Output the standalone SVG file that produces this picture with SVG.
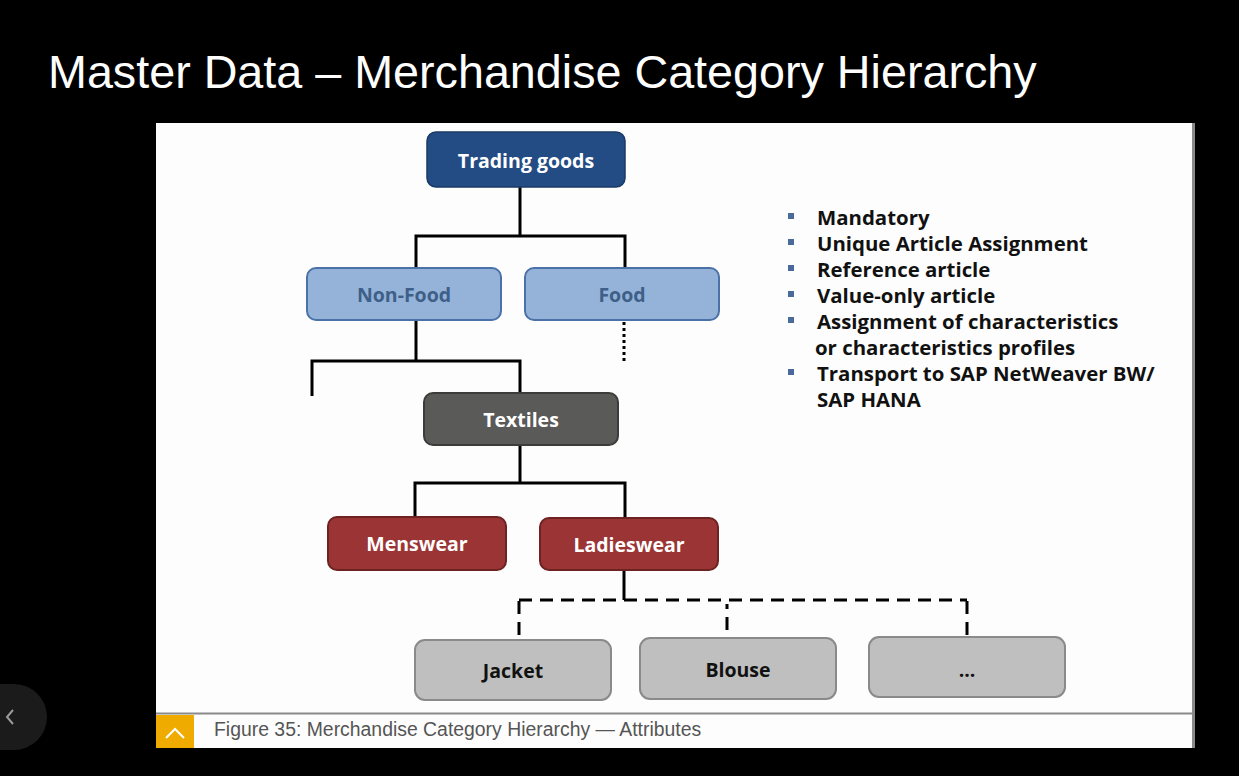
<svg xmlns="http://www.w3.org/2000/svg" width="1239" height="776" viewBox="0 0 1239 776">
<style>
.lbl{font-family:"Open Sans","Liberation Sans",Arial,sans-serif;font-weight:bold;font-size:19.5px;text-anchor:middle;dominant-baseline:central}
.conn{fill:none;stroke:#000;stroke-width:3}
.dash{fill:none;stroke:#000;stroke-width:3;stroke-dasharray:13 8}
.bul{font-family:"Open Sans","Liberation Sans",Arial,sans-serif;font-weight:bold;font-size:20.4px;fill:#111}
.sq{fill:#4a6a9c}
</style>
<rect x="0" y="0" width="1239" height="776" fill="#000"/>
<text x="48" y="88" font-family="Liberation Sans,Arial,sans-serif" font-size="46.7" fill="#fff">Master Data – Merchandise Category Hierarchy</text>
<g id="back-button">
<path d="M0,684 H14 A33,33 0 0 1 14,750 H0 Z" fill="#1b1b1b"/>
<path d="M13,710 L7,717 L13,724" fill="none" stroke="#9a9a9a" stroke-width="2"/>
</g>
<g id="panel">
<rect x="156" y="123" width="1038" height="625" fill="#fdfdfd"/>
<line x1="1193.5" y1="123" x2="1193.5" y2="748" stroke="#8a8a8a" stroke-width="3"/>
<line x1="156" y1="713.5" x2="1193" y2="713.5" stroke="#8a8a8a" stroke-width="2"/>
<rect x="156" y="715" width="38" height="33" fill="#f0ab00"/>
<path d="M166,738 L175,729 L184,738" fill="none" stroke="#fff" stroke-width="2"/>
<text x="214" y="736" font-family="Liberation Sans,Arial,sans-serif" font-size="19.4" fill="#555">Figure 35: Merchandise Category Hierarchy — Attributes</text>
</g>
<g id="connectors">
<path class="conn" d="M520,187 V236 M416,236 H625 M416,234.5 V268 M625,234.5 V268"/>
<path class="conn" d="M416,320 V361 M312,361 H521.5 M312,359.5 V396 M520,359.5 V393"/>
<path d="M624,322 V362" fill="none" stroke="#000" stroke-width="3" stroke-dasharray="3 3"/>
<path class="conn" d="M520,445 V483 M415,483 H626.5 M415,481.5 V517 M625,481.5 V518"/>
<path class="conn" d="M624,570 V600"/>
<path class="dash" d="M519,600 H967"/>
<path class="dash" d="M519,635 V600"/>
<path class="dash" d="M727,630 V604"/>
<path class="dash" d="M967,635 V600"/>
</g>
<g id="trading-goods">
<rect x="427" y="132" width="198" height="55" rx="9" fill="#234c84" stroke="#1a3a66" stroke-width="1.5"/>
<text class="lbl" x="526" y="160" fill="#fff">Trading goods</text>
</g>
<g id="non-food">
<rect x="307" y="268" width="194" height="52" rx="9" fill="#95b3d9" stroke="#4a72a8" stroke-width="2"/>
<text class="lbl" x="404" y="294" fill="#3e5f88">Non-Food</text>
</g>
<g id="food">
<rect x="525" y="268" width="194" height="52" rx="9" fill="#95b3d9" stroke="#4a72a8" stroke-width="2"/>
<text class="lbl" x="622" y="294" fill="#3e5f88">Food</text>
</g>
<g id="textiles">
<rect x="424" y="393" width="194" height="52" rx="9" fill="#5a5a58" stroke="#3c3c3a" stroke-width="2"/>
<text class="lbl" x="521" y="419" fill="#fff">Textiles</text>
</g>
<g id="menswear">
<rect x="328" y="517" width="178" height="53" rx="9" fill="#9b3535" stroke="#6e2222" stroke-width="2"/>
<text class="lbl" x="417" y="543" fill="#fff">Menswear</text>
</g>
<g id="ladieswear">
<rect x="540" y="518" width="178" height="52" rx="9" fill="#9b3535" stroke="#6e2222" stroke-width="2"/>
<text class="lbl" x="629" y="544" fill="#fff">Ladieswear</text>
</g>
<g id="jacket">
<rect x="415" y="640" width="196" height="60" rx="10" fill="#bfbfbf" stroke="#8a8a8a" stroke-width="2"/>
<text class="lbl" x="513" y="670" fill="#111">Jacket</text>
</g>
<g id="blouse">
<rect x="640" y="638" width="196" height="61" rx="10" fill="#bfbfbf" stroke="#8a8a8a" stroke-width="2"/>
<text class="lbl" x="738" y="669" fill="#111">Blouse</text>
</g>
<g id="more">
<rect x="869" y="637" width="196" height="60" rx="10" fill="#bfbfbf" stroke="#8a8a8a" stroke-width="2"/>
<text class="lbl" x="967" y="669" fill="#111">...</text>
</g>
<g id="attributes">
<rect class="sq" x="788" y="213" width="6" height="6"/>
<rect class="sq" x="788" y="239" width="6" height="6"/>
<rect class="sq" x="788" y="265" width="6" height="6"/>
<rect class="sq" x="788" y="291" width="6" height="6"/>
<rect class="sq" x="788" y="317" width="6" height="6"/>
<rect class="sq" x="788" y="369" width="6" height="6"/>
<text class="bul" x="817" y="225">Mandatory</text>
<text class="bul" x="817" y="251">Unique Article Assignment</text>
<text class="bul" x="817" y="277">Reference article</text>
<text class="bul" x="817" y="303">Value-only article</text>
<text class="bul" x="817" y="329">Assignment of characteristics</text>
<text class="bul" x="815" y="355">or characteristics profiles</text>
<text class="bul" x="817" y="381">Transport to SAP NetWeaver BW/</text>
<text class="bul" x="817" y="407">SAP HANA</text>
</g>
</svg>
